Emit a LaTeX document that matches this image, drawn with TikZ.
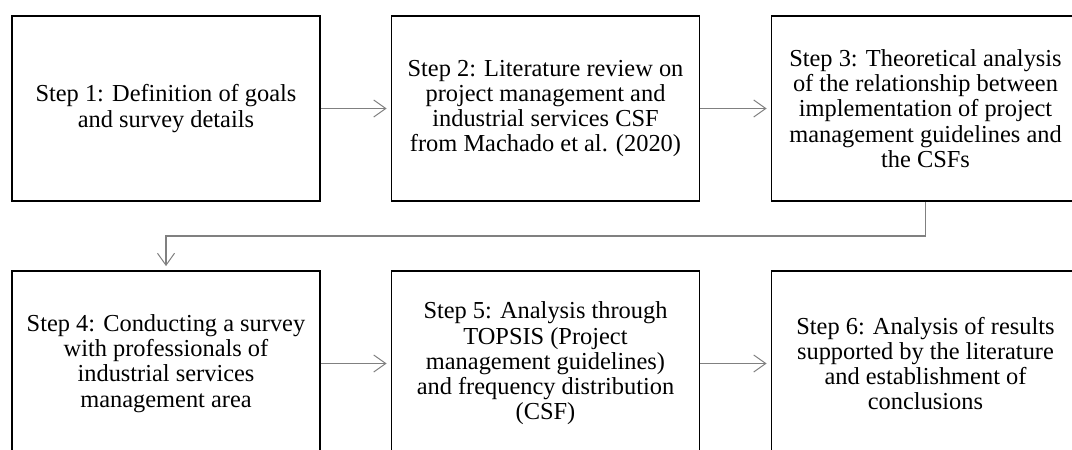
\documentclass[tikz,border=0pt]{standalone}
\usepackage{fontspec}
\setmainfont{Liberation Serif}
\usetikzlibrary{arrows.meta,calc}
\begin{document}
\begin{tikzpicture}[x=1pt,y=-1pt,
  stepbox/.style={draw=black,line width=1.8pt,rectangle,minimum width=308pt,minimum height=185pt,
    inner sep=0pt,align=center,font=\fontsize{24.4}{25.3}\selectfont,text=black},
  link/.style={draw=black!50,line width=1.4pt,shorten >=4pt,
    -{Straight Barb[length=12pt,width=17pt,line width=1pt]}}]
\useasboundingbox (0,0) rectangle (1072,450);
\clip (0,0) rectangle (1072,450);
\node[stepbox] (s1) at (166,108.5) {Step 1: Definition of goals\\and survey details};
\node[stepbox] (s2) at (545.5,108.5) {Step 2: Literature review on\\project management and\\industrial services CSF\\from Machado et al. (2020)};
\node[stepbox] (s3) at (925.5,108.5) {Step 3: Theoretical analysis\\of the relationship between\\implementation of project\\management guidelines and\\the CSFs};
\node[stepbox] (s4) at (166,363.5) {Step 4: Conducting a survey\\with professionals of\\industrial services\\management area};
\node[stepbox] (s5) at (545.5,363.5) {Step 5: Analysis through\\TOPSIS (Project\\management guidelines)\\and frequency distribution\\(CSF)};
\node[stepbox] (s6) at (925.5,363.5) {Step 6: Analysis of results\\supported by the literature\\and establishment of\\conclusions};
\draw[link] (s1) -- (s2);
\draw[link] (s2) -- (s3);
\draw[link] (s4) -- (s5);
\draw[link] (s5) -- (s6);
\coordinate (mid) at ($(s3.south)!0.5!(s6.north)$);
\draw[link] (s3.south) -- (mid) -| (s4.north);
\end{tikzpicture}
\end{document}
